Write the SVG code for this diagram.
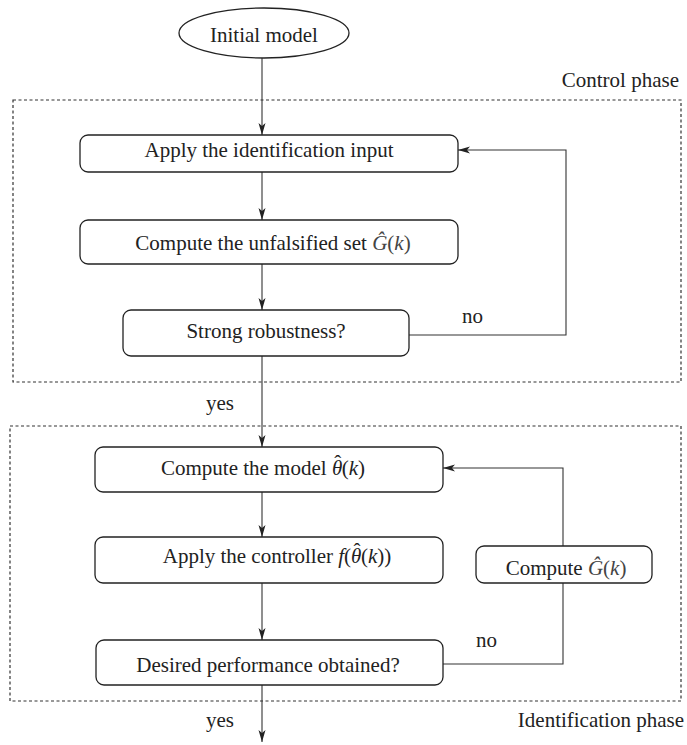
<svg xmlns="http://www.w3.org/2000/svg" width="687" height="745" viewBox="0 0 687 745">
<style>
  text { font-family: "Liberation Serif", "Times New Roman", serif; font-size: 21px; fill: #222; }
  .c { text-anchor: middle; }
  .box { fill: #fff; stroke: #222; stroke-width: 1.3; }
  .phase { fill: none; stroke: #333; stroke-width: 1.2; stroke-dasharray: 3 2.5; }
  .conn { fill: none; stroke: #333; stroke-width: 1.1; }
  .m { font-style: italic; fill: #444; }
  .i { font-style: italic; }
</style>
<defs>
  <marker id="arr" viewBox="0 0 12 8" refX="12" refY="4" markerWidth="12" markerHeight="8" markerUnits="userSpaceOnUse" orient="auto">
    <path d="M0,0.5 L12,4 L0,7.5 L3,4 z" fill="#222"/>
  </marker>
</defs>
<rect width="687" height="745" fill="#fff"/>

<g id="control-phase">
  <rect class="phase" x="13" y="100" width="668" height="282"/>
  <text x="679" y="87" text-anchor="end">Control phase</text>
</g>
<g id="identification-phase">
  <rect class="phase" x="10" y="426" width="671" height="275"/>
  <text x="684" y="727" text-anchor="end">Identification phase</text>
</g>

<g id="connectors">
  <path class="conn" d="M262,58 V135" marker-end="url(#arr)"/>
  <path class="conn" d="M262,172 V220" marker-end="url(#arr)"/>
  <path class="conn" d="M262,264 V310" marker-end="url(#arr)"/>
  <path class="conn" d="M262,356 V447" marker-end="url(#arr)"/>
  <path class="conn" d="M262,492 V537" marker-end="url(#arr)"/>
  <path class="conn" d="M262,583 V640" marker-end="url(#arr)"/>
  <path class="conn" d="M262,685 V742" marker-end="url(#arr)"/>
  <path class="conn" d="M409,335 H566 V150 H458" marker-end="url(#arr)"/>
  <path class="conn" d="M443,664 H563 V583"/>
  <path class="conn" d="M563,546 V468 H443" marker-end="url(#arr)"/>
  <text x="462" y="323">no</text>
  <text x="206" y="410">yes</text>
  <text x="476" y="647">no</text>
  <text x="206" y="727">yes</text>
</g>

<g id="initial-model">
  <ellipse class="box" cx="264" cy="33" rx="85" ry="25"/>
  <text class="c" x="264" y="42">Initial model</text>
</g>
<g id="apply-input">
  <rect class="box" x="80" y="135" width="378" height="37" rx="8"/>
  <text class="c" x="269" y="157">Apply the identification input</text>
</g>
<g id="compute-set">
  <rect class="box" x="80" y="220" width="378" height="44" rx="8"/>
  <text class="c" x="273" y="250">Compute the unfalsified set <tspan class="m">Ĝ</tspan><tspan fill="#444">(</tspan><tspan class="m">k</tspan><tspan fill="#444">)</tspan></text>
</g>
<g id="strong-robustness">
  <rect class="box" x="123" y="310" width="286" height="46" rx="8"/>
  <text class="c" x="266" y="338">Strong robustness?</text>
</g>
<g id="compute-model">
  <rect class="box" x="95" y="447" width="348" height="45" rx="8"/>
  <text class="c" x="263" y="475">Compute the model <tspan class="i">θ</tspan><tspan dx="-8" dy="-5">ˆ</tspan><tspan dx="0.5" dy="5">(</tspan><tspan class="i">k</tspan>)</text>
</g>
<g id="apply-controller">
  <rect class="box" x="95" y="537" width="348" height="46" rx="8"/>
  <text class="c" x="277" y="563">Apply the controller <tspan class="i">f</tspan>(<tspan class="i">θ</tspan><tspan dx="-8" dy="-5">ˆ</tspan><tspan dx="0.5" dy="5">(</tspan><tspan class="i">k</tspan>))</text>
</g>
<g id="compute-g">
  <rect class="box" x="476" y="546" width="176" height="37" rx="8"/>
  <text class="c" x="566" y="575">Compute <tspan class="m">Ĝ</tspan><tspan fill="#444">(</tspan><tspan class="m">k</tspan><tspan fill="#444">)</tspan></text>
</g>
<g id="desired-performance">
  <rect class="box" x="96" y="640" width="347" height="45" rx="8"/>
  <text class="c" x="268" y="672">Desired performance obtained?</text>
</g>
</svg>
